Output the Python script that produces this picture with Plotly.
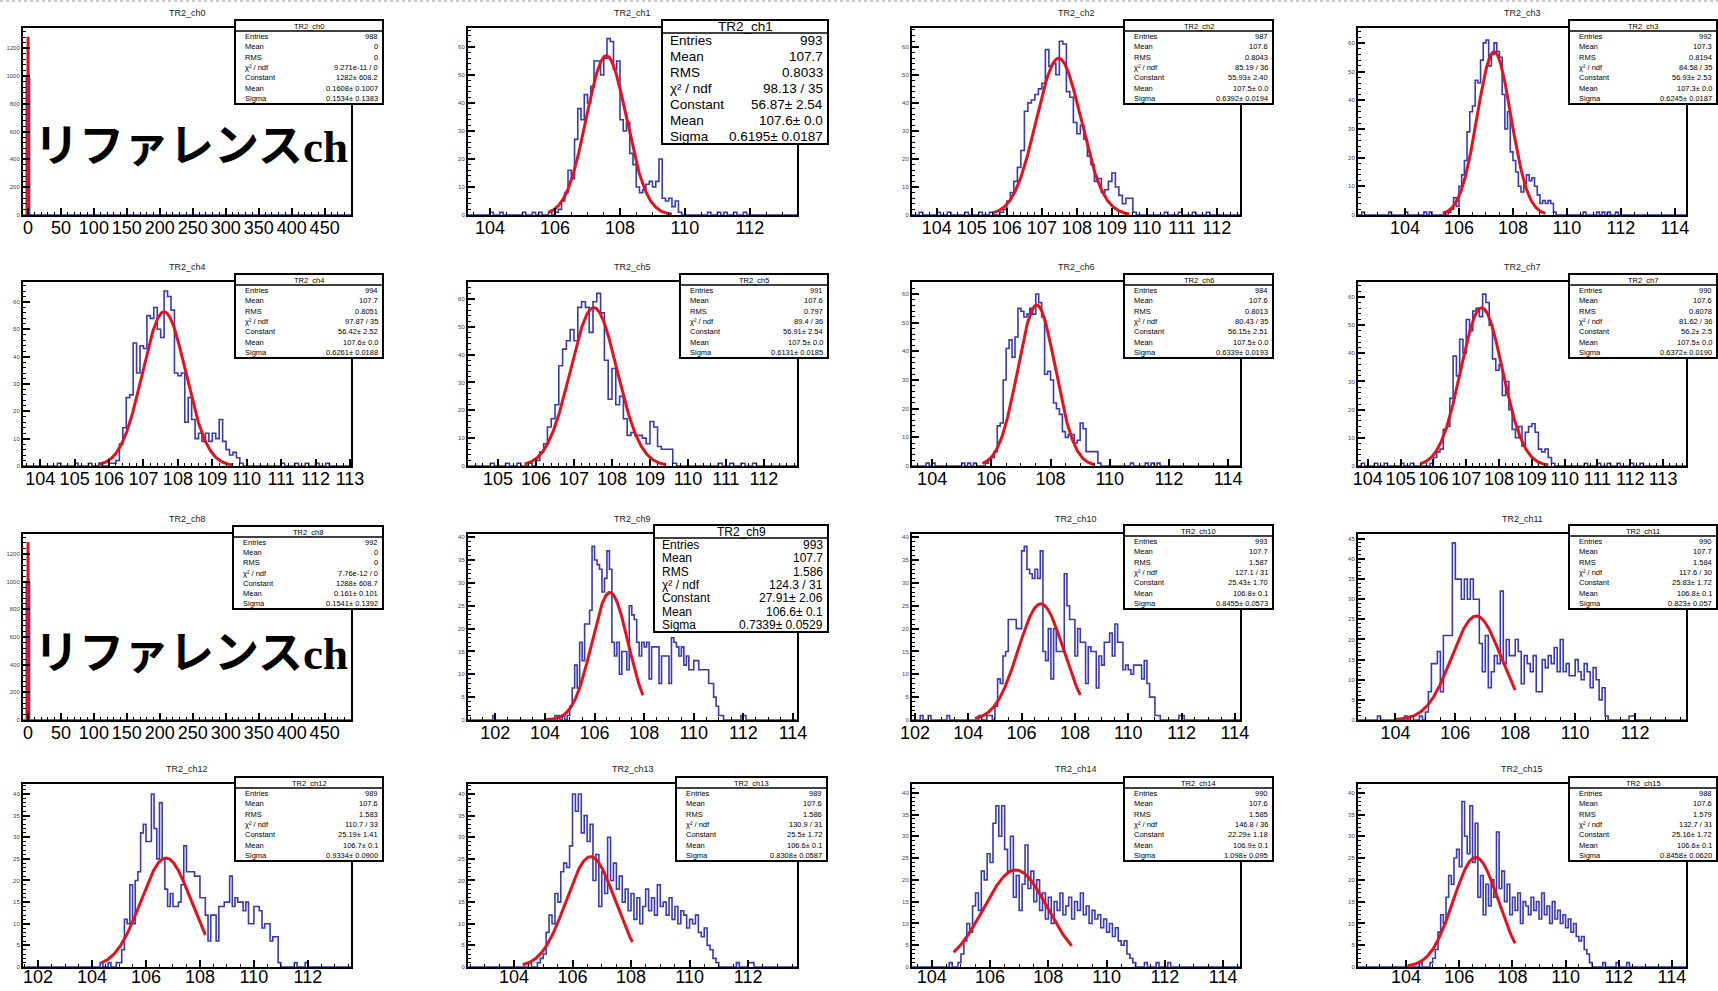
import numpy as np
import plotly.graph_objects as go

W, H = 1718, 991

# ---------------- data ----------------
names = [f"TR2_ch{i}" for i in range(16)]

hist_width = [5.0, 0.1, 0.1, 0.1, 0.1, 0.1, 0.1, 0.1, 5.0, 0.1, 0.1, 0.1, 0.1, 0.1, 0.1, 0.1]
hist_start = [-2.5, 106.0, 105.8, 105.6, 106.0, 106.0, 105.8, 105.9,
              -2.5, 104.4, 104.4, 105.0, 104.9, 104.9, 104.9, 104.9]
hist_counts = [
    [988],
    [1, 2, 5, 8, 16, 13, 27, 38, 34, 43, 40, 46, 55, 55, 50, 56, 63, 62, 52, 55, 34, 30, 33, 22, 18, 10, 8, 9,
     11, 12, 10, 12, 20, 6, 5, 6, 3, 5, 1],
    [1, 2, 5, 8, 12, 17, 23, 37, 40, 41, 43, 45, 47, 59, 53, 54, 50, 62, 61, 44, 42, 33, 29, 32, 27, 21, 18, 12,
     13, 8, 9, 12, 15, 10, 7, 4, 6, 6, 1],
    [1, 2, 6, 3, 10, 14, 19, 29, 36, 38, 47, 46, 54, 60, 61, 52, 56, 60, 57, 55, 42, 30, 36, 22, 19, 15, 10, 8,
     11, 14, 12, 13, 10, 7, 4, 5, 4, 5, 4, 1],
    [1, 1, 2, 8, 14, 25, 26, 45, 34, 44, 43, 55, 54, 58, 50, 47, 64, 62, 57, 34, 33, 34, 16, 25, 17, 10, 12, 9,
     12, 9, 12, 10, 17, 9, 6, 4, 5, 3, 1],
    [2, 5, 8, 14, 17, 22, 36, 42, 45, 49, 45, 57, 59, 57, 48, 59, 62, 55, 38, 24, 35, 22, 25, 17, 11, 12, 11, 11,
     10, 8, 16, 14, 7, 6, 6, 6, 1],
    [1, 2, 3, 5, 14, 15, 30, 41, 44, 38, 45, 55, 54, 52, 53, 55, 53, 60, 57, 52, 32, 33, 30, 22, 20, 18, 12, 10,
     11, 11, 8, 9, 15, 13, 5, 5, 5, 5, 1],
    [1, 3, 5, 6, 13, 14, 24, 39, 32, 45, 40, 52, 48, 55, 56, 53, 61, 58, 50, 38, 34, 36, 25, 30, 20, 13, 10, 14,
     7, 12, 14, 15, 12, 6, 5, 6, 3, 1],
    [992],
    [1, 1, 0, 1, 0, 1, 3, 7, 12, 7, 17, 13, 21, 21, 24, 38, 35, 34, 33, 28, 31, 37, 33, 17, 14, 17, 10, 15, 15, 11,
     25, 23, 22, 17, 14, 17, 16, 17, 9, 16, 16, 16, 8, 14, 14, 14, 8, 18, 17, 16, 14, 16, 12, 14, 11, 11, 13, 13,
     11, 11, 11, 11, 8, 8, 5, 3, 1, 1],
    [1, 0, 0, 1, 1, 0, 3, 9, 8, 14, 15, 22, 22, 22, 20, 20, 37, 38, 33, 32, 31, 33, 31, 37, 15, 13, 20, 9, 20, 15,
     15, 15, 32, 25, 22, 22, 14, 20, 17, 17, 8, 16, 15, 15, 7, 14, 12, 17, 17, 19, 14, 21, 17, 17, 11, 12, 11, 10,
     12, 12, 12, 9, 13, 8, 5, 5, 1, 1],
    [2, 7, 14, 14, 17, 7, 21, 21, 21, 44, 35, 35, 30, 35, 30, 35, 30, 30, 19, 12, 21, 8, 12, 16, 14, 32, 14, 20,
     16, 16, 20, 17, 9, 16, 14, 12, 16, 7, 7, 15, 13, 16, 14, 18, 12, 20, 12, 14, 11, 11, 15, 12, 10, 14, 12, 8,
     13, 10, 5, 8, 1],
    [1, 1, 4, 11, 10, 19, 10, 20, 22, 31, 33, 29, 29, 40, 32, 25, 38, 25, 18, 14, 17, 14, 14, 15, 19, 28, 22, 22,
     22, 21, 21, 16, 16, 12, 6, 12, 12, 6, 14, 14, 15, 15, 21, 14, 16, 15, 15, 13, 15, 10, 10, 14, 14, 13, 9, 10,
     10, 6, 7, 7, 1],
    [2, 3, 8, 12, 10, 17, 15, 22, 24, 23, 28, 40, 36, 40, 31, 35, 29, 33, 20, 26, 14, 22, 17, 30, 20, 24, 18, 21,
     15, 18, 13, 17, 11, 16, 10, 14, 18, 13, 16, 12, 19, 14, 15, 12, 16, 11, 14, 10, 13, 12, 9, 11, 10, 12, 8, 7,
     9, 5, 4, 2, 1],
    [1, 3, 6, 10, 8, 14, 17, 13, 22, 20, 26, 24, 33, 37, 30, 37, 27, 22, 30, 16, 21, 13, 19, 28, 18, 22, 15, 20,
     13, 17, 11, 16, 10, 15, 13, 17, 12, 14, 16, 11, 15, 13, 17, 12, 14, 10, 13, 11, 12, 9, 11, 8, 10, 7, 9, 6, 5,
     6, 3, 2, 1],
    [1, 2, 4, 8, 12, 10, 16, 21, 19, 25, 27, 23, 38, 30, 26, 37, 24, 33, 16, 21, 12, 19, 14, 20, 16, 31, 18, 22,
     15, 19, 12, 16, 13, 17, 10, 15, 14, 12, 16, 13, 15, 11, 17, 12, 14, 10, 15, 11, 13, 10, 12, 9, 11, 8, 10, 7,
     6, 7, 4, 3, 1],
]
# isolated single entries (bin centres)
hist_single = [
    [],
    [104.0, 104.3, 105.0, 105.3, 105.5, 105.8, 110.7, 111.0, 111.2, 111.5, 111.8],
    [103.5, 104.0, 104.3, 104.8, 105.2, 105.5, 110.5, 110.9, 111.3, 111.7],
    [102.4, 103.4, 104.0, 104.7, 104.9, 110.6, 111.1, 111.3, 111.5, 111.8],
    [104.5, 105.0, 105.4, 105.7, 111.0, 111.4, 111.7, 112.0, 112.3],
    [104.8, 105.2, 105.5, 105.8, 110.8, 111.1, 111.4, 111.7],
    [103.8, 104.0, 105.0, 105.2, 105.4, 110.7, 111.2, 111.4, 111.6],
    [103.8, 104.2, 104.5, 105.0, 105.3, 110.6, 111.0, 111.3, 111.6, 112.0, 112.3],
    [],
    [101.9, 111.9, 112.0],
    [102.2, 102.5, 103.2, 111.9, 112.0],
    [103.4, 104.3, 104.5, 104.8, 111.8, 111.9],
    [104.3, 104.6, 111.5, 111.9],
    [104.5, 104.8, 111.6, 112.0, 112.1],
    [104.6, 111.3, 111.7, 112.1],
    [104.5, 111.4, 111.9, 112.3],
]

# Gaussian fit parameters (from the stat boxes) and fit ranges
fit_const = [1282, 56.87, 55.93, 56.93, 56.42, 56.91, 56.15, 56.2, 1288, 27.91, 25.43, 25.83, 25.19, 25.5, 22.29, 25.16]
fit_mean = [0.1608, 107.58, 107.48, 107.3, 107.6, 107.52, 107.53, 107.47, 0.161, 106.62, 106.72, 106.7, 106.74,
            106.62, 106.88, 106.62]
fit_sigma = [0.1534, 0.6195, 0.6392, 0.6245, 0.6261, 0.6131, 0.6339, 0.6372, 0.1541, 0.7339, 0.8455, 0.823, 0.9334,
             0.8308, 1.098, 0.8458]
fit_lo = [-0.5, 105.8, 105.6, 105.4, 105.7, 105.7, 105.7, 105.6, -0.5, 104.0, 104.25, 104.0, 104.35, 104.3, 104.75, 104.05]
fit_hi = [0.8, 109.6, 109.5, 109.2, 109.6, 109.4, 109.5, 109.5, 0.8, 107.95, 108.2, 108.0, 108.2, 108.05, 108.8, 108.1]

# axis ranges / ticks
x_ranges = [[-7.5, 490], [103.32, 113.45], [103.29, 112.66], [102.26, 114.41],
            [103.5, 113.03], [104.21, 112.87], [103.32, 114.4], [103.7, 113.7],
            [-7.5, 490], [100.9, 114.16], [101.89, 114.19], [102.75, 113.7],
            [101.44, 113.6], [102.43, 113.67], [103.32, 114.58], [102.19, 114.53]]
y_ranges = [[0, 1345], [0, 66.8], [0, 66.7], [0, 65.2], [0, 67.3], [0, 66.1], [0, 64.2], [0, 65.3],
            [0, 1345], [0, 40.7], [0, 40.7], [0, 46.2], [0, 42.3], [0, 42.3], [0, 42.0], [0, 42.0]]
x_dtick = [50, 2, 1, 2, 1, 1, 2, 1, 50, 2, 2, 2, 2, 2, 2, 2]
y_dtick = [200, 10, 10, 10, 10, 10, 10, 10, 200, 5, 5, 5, 5, 5, 5, 5]

# stat box texts
stat_labels = ["Entries", "Mean", "RMS", "χ² / ndf", "Constant", "Mean", "Sigma"]
stat_entries = ["988", "993", "987", "992", "994", "991", "984", "990", "992", "993", "993", "990", "989", "989", "990", "988"]
stat_mean = ["0", "107.7", "107.6", "107.3", "107.7", "107.6", "107.6", "107.6", "0", "107.7", "107.7", "107.7",
             "107.6", "107.6", "107.6", "107.6"]
stat_rms = ["0", "0.8033", "0.8043", "0.8194", "0.8051", "0.797", "0.8013", "0.8078", "0", "1.586", "1.587", "1.584",
            "1.583", "1.586", "1.585", "1.579"]
stat_chi2 = ["9.271e-11 / 0", "98.13 / 35", "85.19 / 36", "84.58 / 35", "97.87 / 35", "89.4 / 36", "80.43 / 35",
             "81.62 / 36", "7.76e-12 / 0", "124.3 / 31", "127.1 / 31", "117.6 / 30", "110.7 / 33", "130.9 / 31",
             "146.8 / 36", "132.7 / 31"]
stat_const = ["1282± 608.2", "56.87± 2.54", "55.93± 2.40", "56.93± 2.53", "56.42± 2.52", "56.91± 2.54",
              "56.15± 2.51", "56.2± 2.5", "1288± 608.7", "27.91± 2.06", "25.43± 1.70", "25.83± 1.72",
              "25.19± 1.41", "25.5± 1.72", "22.29± 1.18", "25.16± 1.72"]
stat_fmean = ["0.1608± 0.1007", "107.6± 0.0", "107.5± 0.0", "107.3± 0.0", "107.6± 0.0", "107.5± 0.0",
              "107.5± 0.0", "107.5± 0.0", "0.161± 0.101", "106.6± 0.1", "106.8± 0.1", "106.8± 0.1",
              "106.7± 0.1", "106.6± 0.1", "106.9± 0.1", "106.6± 0.1"]
stat_fsigma = ["0.1534± 0.1383", "0.6195± 0.0187", "0.6392± 0.0194", "0.6245± 0.0187", "0.6261± 0.0188",
               "0.6131± 0.0185", "0.6339± 0.0193", "0.6372± 0.0190", "0.1541± 0.1392", "0.7339± 0.0529",
               "0.8455± 0.0573", "0.823± 0.057", "0.9334± 0.0900", "0.8308± 0.0587", "1.098± 0.095",
               "0.8458± 0.0620"]

overlay_text = "リファレンスch"
overlay_panels = [0, 8]

# ---------------- layout geometry (pixels) ----------------
col_L = [23, 468, 912, 1358]
col_R = [351, 797, 1240, 1686]
row_T = [28, 282, 534, 784]
row_B = [215, 466, 720, 967]
row_standoff = [-5, -5, -5, -8]
box_geo = [(235, 383, 20, 104), (662, 828, 20, 144), (1124, 1273, 20, 104), (1569, 1717, 20, 104),
           (235, 383, 274, 358), (680, 828, 274, 358), (1124, 1273, 274, 358), (1569, 1717, 274, 358),
           (233, 383, 526, 609), (654, 828, 525, 632), (1124, 1273, 525, 609), (1569, 1717, 525, 609),
           (235, 383, 777, 861), (676, 827, 777, 861), (1124, 1273, 777, 861), (1569, 1717, 777, 861)]
box_font = {1: 13.5, 9: 12}
box_head = {1: 13, 9: 13}

FONT = "Liberation Sans, Arial, sans-serif"
HCOL = "#3a3ab0"
RCOL = "#e4121c"


def px(x):
    return x / W


def py(y):
    return 1 - y / H


fig = go.Figure()
layout = dict(width=W, height=H, margin=dict(l=0, r=0, t=0, b=0, autoexpand=False),
              paper_bgcolor="white", plot_bgcolor="white", showlegend=False)
shapes, annots = [], []

for i in range(16):
    r, c = divmod(i, 4)
    n = "" if i == 0 else str(i + 1)
    w = hist_width[i]
    start = hist_start[i]
    lo, hi = x_ranges[i]
    kmin = int(np.floor((lo - start) / w)) - 1
    kmax = int(np.ceil((hi - start) / w)) + 1
    ks = np.arange(kmin, kmax + 1)
    edges = np.round(start + w * ks, 6)
    counts = np.zeros(len(ks))
    for j, v in enumerate(hist_counts[i]):
        counts[j - kmin] = v
    for xs in hist_single[i]:
        k = int(np.floor((xs - start) / w + 1e-9))
        counts[k - kmin] += 1
    yvals = np.append(counts[:-1], counts[-2])
    fig.add_trace(go.Scatter(x=edges, y=yvals, mode="lines", line=dict(shape="hv", color=HCOL, width=1.6),
                             xaxis="x" + n, yaxis="y" + n, hoverinfo="skip"))
    npts = 2000 if w > 1 else 300
    xf = np.linspace(fit_lo[i], fit_hi[i], npts)
    yf = fit_const[i] * np.exp(-0.5 * ((xf - fit_mean[i]) / fit_sigma[i]) ** 2)
    fig.add_trace(go.Scatter(x=xf, y=yf, mode="lines", line=dict(color=RCOL, width=3),
                             xaxis="x" + n, yaxis="y" + n, hoverinfo="skip"))

    xminor = {50: 10, 2: 0.5, 1: 0.2}[x_dtick[i]]
    layout["xaxis" + n] = dict(
        domain=[px(col_L[c]), px(col_R[c])], range=x_ranges[i], anchor="y" + n, automargin=False,
        showline=True, mirror=True, linecolor="black", linewidth=2,
        ticks="inside", ticklen=7, tickwidth=1.5, tickcolor="black",
        tick0=0, dtick=x_dtick[i], showgrid=False, zeroline=False, ticklabelstandoff=row_standoff[r],
        tickfont=dict(family=FONT, size=18, color="black"),
        minor=dict(ticks="inside", ticklen=3, dtick=xminor, tickcolor="black", tickwidth=1, showgrid=False))
    layout["yaxis" + n] = dict(
        domain=[py(row_B[r]), py(row_T[r])], range=y_ranges[i], anchor="x" + n, automargin=False,
        showline=True, mirror=True, linecolor="black", linewidth=2,
        ticks="inside", ticklen=7, tickwidth=2, tickcolor="black",
        tick0=0, dtick=y_dtick[i], showgrid=False, zeroline=False,
        tickfont=dict(family=FONT, size=6, color="#444"),
        minor=dict(ticks="inside", ticklen=3, dtick=y_dtick[i] / 5, tickcolor="black", tickwidth=1,
                   showgrid=False))

    # histogram title
    annots.append(dict(x=px((col_L[c] + col_R[c]) / 2), y=py(row_T[r] - 15), xref="paper", yref="paper",
                       text=names[i], showarrow=False, xanchor="center", yanchor="middle",
                       font=dict(family=FONT, size=9, color="#222")))

    # stat box
    x0, x1, y0, y1 = box_geo[i]
    fs = box_font.get(i, 7.5)
    hh = box_head.get(i, 11)
    shapes.append(dict(type="rect", xref="paper", yref="paper", x0=px(x0), x1=px(x1), y0=py(y1), y1=py(y0),
                       line=dict(color="black", width=2), fillcolor="white", layer="above"))
    shapes.append(dict(type="line", xref="paper", yref="paper", x0=px(x0), x1=px(x1), y0=py(y0 + hh),
                       y1=py(y0 + hh), line=dict(color="black", width=1.5), layer="above"))
    annots.append(dict(x=px((x0 + x1) / 2), y=py(y0 + hh / 2 + 0.5), xref="paper", yref="paper", text=names[i],
                       showarrow=False, xanchor="center", yanchor="middle",
                       font=dict(family=FONT, size=fs, color="black")))
    vals = [stat_entries[i], stat_mean[i], stat_rms[i], stat_chi2[i], stat_const[i], stat_fmean[i], stat_fsigma[i]]
    step = (y1 - (y0 + hh)) / 7
    pad = 6 if i in box_font else 8
    for k in range(7):
        yc = y0 + hh + (k + 0.5) * step
        annots.append(dict(x=px(x0 + pad), y=py(yc), xref="paper", yref="paper", text=stat_labels[k],
                           showarrow=False, xanchor="left", yanchor="middle",
                           font=dict(family=FONT, size=fs, color="black")))
        annots.append(dict(x=px(x1 - 3), y=py(yc), xref="paper", yref="paper", text=vals[k],
                           showarrow=False, xanchor="right", yanchor="middle",
                           font=dict(family=FONT, size=fs, color="black")))

# big overlay labels on the reference channels
overlay_y = {0: 147, 8: 654}
for i in overlay_panels:
    annots.append(dict(x=px(191), y=py(overlay_y[i]), xref="paper", yref="paper",
                       text="<b>" + overlay_text + "</b>", showarrow=False, xanchor="center", yanchor="middle",
                       font=dict(family="Liberation Serif, Noto Sans CJK JP, serif", size=45, color="black")))

# dotted border on top
shapes.append(dict(type="line", xref="paper", yref="paper", x0=0, x1=1, y0=py(1), y1=py(1),
                   line=dict(color="#999", width=1, dash="dot"), layer="above"))

layout["shapes"] = shapes
layout["annotations"] = annots
fig.update_layout(**layout)
fig.write_html("out.html")
